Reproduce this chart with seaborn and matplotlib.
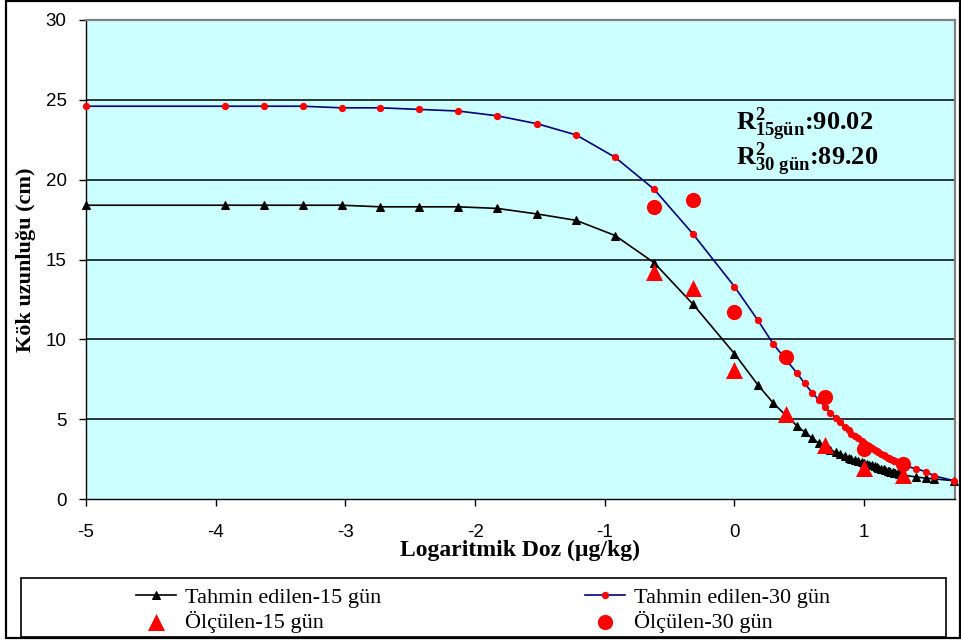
import matplotlib
matplotlib.use("Agg")
import matplotlib.pyplot as plt
from matplotlib.patches import Rectangle
import seaborn as sns

# log doz degerleri (tahmin egrileri)
log_doz = [-5.00, -3.93, -3.63, -3.33, -3.03, -2.73, -2.43, -2.13, -1.83, -1.52,
           -1.22, -0.92, -0.62, -0.32, 0.00, 0.18, 0.30, 0.40, 0.48, 0.54,
           0.60, 0.65, 0.70, 0.74, 0.78, 0.81, 0.85, 0.88, 0.90, 0.93,
           0.95, 0.98, 1.00, 1.02, 1.04, 1.06, 1.08, 1.10, 1.11, 1.13,
           1.15, 1.16, 1.18, 1.19, 1.20, 1.22, 1.23, 1.24, 1.26, 1.27,
           1.28, 1.29, 1.30, 1.40, 1.48, 1.54, 1.69]

tahmin_15 = [18.4, 18.4, 18.4, 18.4, 18.4, 18.3, 18.3, 18.3, 18.2, 17.85,
             17.45, 16.5, 14.8, 12.2, 9.1, 7.15, 6.0, 5.2, 4.6, 4.2,
             3.8, 3.5, 3.25, 3.05, 2.95, 2.85, 2.7, 2.6, 2.5, 2.45,
             2.38, 2.3, 2.25, 2.2, 2.15, 2.1, 2.05, 2.0, 1.95, 1.9,
             1.85, 1.82, 1.78, 1.75, 1.72, 1.68, 1.65, 1.62, 1.6, 1.57,
             1.55, 1.52, 1.5, 1.38, 1.3, 1.26, 1.15]

tahmin_30 = [24.6, 24.6, 24.6, 24.6, 24.5, 24.5, 24.4, 24.3, 24.0, 23.5,
             22.8, 21.4, 19.4, 16.6, 13.3, 11.2, 9.7, 8.7, 7.9, 7.25,
             6.65, 6.2, 5.75, 5.4, 5.1, 4.8, 4.5, 4.3, 4.1, 3.95,
             3.8, 3.65, 3.5, 3.4, 3.3, 3.2, 3.1, 3.0, 2.95, 2.85,
             2.75, 2.7, 2.6, 2.55, 2.5, 2.45, 2.4, 2.35, 2.3, 2.25,
             2.2, 2.15, 2.1, 1.9, 1.7, 1.45, 1.15]

# olculen degerler
olcum_doz = [-0.62, -0.32, 0.00, 0.40, 0.70, 1.00, 1.30]
olcum_15 = [14.2, 13.2, 8.1, 5.35, 3.4, 1.95, 1.5]
olcum_30 = [18.3, 18.7, 11.7, 8.9, 6.4, 3.15, 2.2]

y_ticks = [0, 5, 10, 15, 20, 25, 30]
x_ticks = [-5, -4, -3, -2, -1, 0, 1]

plt.rcParams['axes.unicode_minus'] = False
plt.rcParams['mathtext.fontset'] = 'custom'
plt.rcParams['mathtext.rm'] = 'Liberation Serif:bold'
plt.rcParams['mathtext.it'] = 'Liberation Serif:bold'
plt.rcParams['mathtext.bf'] = 'Liberation Serif:bold'

fig = plt.figure(figsize=(9.62, 6.41), dpi=100)
ax = fig.add_axes([0.0894, 0.2215, 0.9033, 0.7473])
ax.set_facecolor('#CCFFFF')

sns.lineplot(x=log_doz, y=tahmin_15, ax=ax, color='black', lw=1.2,
             marker='^', markersize=6, markeredgecolor='black',
             label='Tahmin edilen-15 gün', clip_on=False, zorder=3)
sns.lineplot(x=log_doz, y=tahmin_30, ax=ax, color='#000080', lw=1.2,
             marker='o', markersize=4.5, markerfacecolor='red',
             markeredgecolor='red', label='Tahmin edilen-30 gün',
             clip_on=False, zorder=3)
sns.scatterplot(x=olcum_doz, y=olcum_15, ax=ax, color='red', marker='^',
                s=150, linewidth=0, label='Ölçülen-15 gün', zorder=4)
sns.scatterplot(x=olcum_doz, y=olcum_30, ax=ax, color='red', marker='o',
                s=120, linewidth=0, label='Ölçülen-30 gün', zorder=4)

ax.set_xlim(-5, 1.70)
ax.set_ylim(0, 30)
ax.set_xticks(x_ticks)
ax.set_yticks(y_ticks)
for yv in y_ticks[1:-1]:
    ax.axhline(yv, color='black', lw=1.1, zorder=1)

for s in ['top', 'right']:
    ax.spines[s].set_color('#808080')
    ax.spines[s].set_linewidth(1.6)
for s in ['left', 'bottom']:
    ax.spines[s].set_color('black')
    ax.spines[s].set_linewidth(1.0)

ax.tick_params(axis='both', direction='out', length=5, width=1, color='black')
ax.tick_params(axis='y', pad=9)
ax.tick_params(axis='x', pad=13)
for lab in ax.get_xticklabels() + ax.get_yticklabels():
    lab.set_fontfamily('Liberation Sans')
    lab.set_fontsize(13.5)

ax.set_xlabel('Logaritmik Doz (µg/kg)', fontfamily='Liberation Serif',
              fontweight='bold', fontsize=17)
ax.set_ylabel('Kök uzunluğu (cm)', fontfamily='Liberation Serif',
              fontweight='bold', fontsize=16)
ax.xaxis.set_label_coords(0.5, -0.086)
ax.yaxis.set_label_coords(-0.057, 0.5)

ax.text(0.015, 23.1, r'$\mathrm{R^{2}_{15gün}}$:90.02', fontfamily='Liberation Serif',
        fontweight='bold', fontsize=19, va='baseline', ha='left')
ax.text(0.015, 20.9, r'$\mathrm{R^{2}_{30\ gün}}$:89.20', fontfamily='Liberation Serif',
        fontweight='bold', fontsize=19, va='baseline', ha='left')

handles, labels = ax.get_legend_handles_labels()
if ax.get_legend() is not None:
    ax.get_legend().remove()
order = [0, 2, 1, 3]
leg = fig.legend([handles[i] for i in order], [labels[i] for i in order],
                 loc='center', bbox_to_anchor=(0.502, 0.048), ncol=2,
                 frameon=False, columnspacing=9.2, handlelength=1.8,
                 handletextpad=0.4, labelspacing=0.15,
                 prop={'family': 'Liberation Serif', 'size': 16})

fig.patches.append(Rectangle((0.0218, 0.0062), 0.9616, 0.0921, transform=fig.transFigure,
                             fill=False, edgecolor='black', lw=1.2))
fig.patches.append(Rectangle((0.0062, 0.0047), 0.9917, 0.9937, transform=fig.transFigure,
                             fill=False, edgecolor='black', lw=1.6))

fig.savefig('out.png', dpi=100)
